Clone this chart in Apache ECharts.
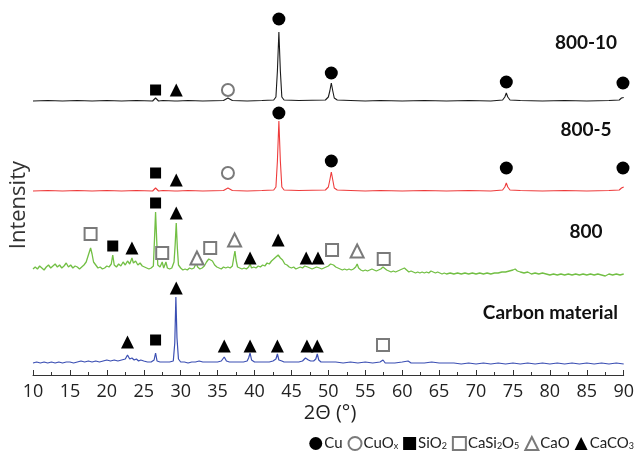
<!DOCTYPE html>
<html>
<head>
<meta charset="utf-8">
<script src="https://cdn.jsdelivr.net/npm/echarts@6/dist/echarts.min.js"></script>
<style>
  html, body { margin: 0; padding: 0; background: #fff; }
  #chart { width: 637px; height: 454px; }
</style>
</head>
<body>
<div id="chart"></div>
<script>
// 2θ ticks
var xTicks = [10, 15, 20, 25, 30, 35, 40, 45, 50, 55, 60, 65, 70, 75, 80, 85, 90];

// vertical offset of each pattern (stacked plot)
var offset800_10 = 274;
var offset800_5 = 184;
var offset800 = 105;
var offsetCarbon = 12;

// 800-10 (black)
var trace800_10 = [[10,0],[12,0.5],[14,0],[16,0.5],[18,0],[20,0.5],[22,0],[24,0.5],[26.2,0],[26.6,3],[27,0],[27.6,0.5],
  [29.2,0],[29.4,1.5],[29.6,0],[31,0.5],[33,0],[35.8,0.5],[36.4,3],[37,0.5],[39,0],[41,0.5],[42.6,1],[42.9,4],[43.1,30],
  [43.3,69],[43.5,30],[43.7,4],[44,1],[46,0.5],[49.6,1],[50,4],[50.2,10],[50.4,18],[50.6,10],[50.8,3],[51.2,1],[53,0.5],
  [55,0],[57,0.5],[60,0],[63,0.5],[66,0],[69,0.5],[72,0],[73.6,1],[73.9,4],[74.1,8],[74.3,4],[74.6,1],[76,0.5],[79,0],
  [82,0.5],[85,0],[88,0.5],[89.4,1],[89.7,3],[89.9,4],[90,3.5]];

// 800-5 (red)
var trace800_5 = [[10,0],[12,0.5],[14,0],[16,0.5],[18,0],[20,0.5],[22,0],[24,0.5],[26.2,0],[26.6,3],[27,0],[27.6,0.5],
  [29.2,0],[29.4,1],[29.6,0],[31,0.5],[33,0],[35.8,0.5],[36.4,3],[37,0.5],[39,0],[41,0.5],[42.6,1],[42.9,4],[43.1,30],
  [43.3,70],[43.5,30],[43.7,4],[44,1],[46,0.5],[49.6,1],[50,4],[50.2,11],[50.4,19],[50.6,11],[50.8,3],[51.2,1],[53,0.5],
  [55,0],[57,0.5],[60,0],[63,0.5],[66,0],[69,0.5],[72,0],[73.6,1],[73.9,4],[74.1,8],[74.3,4],[74.6,1],[76,0.5],[79,0],
  [82,0.5],[85,0],[88,0.5],[89.4,1],[89.7,3],[89.9,5],[90,4]];

// 800 (green)
var trace800 = [[10,1],[10.3,3],[10.6,1],[10.9,4],[11.2,2],[11.5,0],[11.8,3],[12.1,5],[12.4,2],[12.7,4],[13,6],[13.3,3],
  [13.6,5],[13.9,2],[14.2,4],[14.5,7],[14.8,3],[15.1,5],[15.4,2],[15.7,4],[16,3],[16.3,1],[16.6,3],[16.9,5],[17.2,8],
  [17.5,15],[17.8,22],[18,16],[18.2,8],[18.5,5],[18.8,2],[19.1,3],[19.4,1],[19.7,2],[20,4],[20.3,3],[20.6,6],[20.8,15],
  [21,5],[21.3,3],[21.6,6],[21.9,4],[22.2,8],[22.5,5],[22.8,9],[23.1,6],[23.4,12],[23.6,7],[23.9,9],[24.2,5],[24.5,7],
  [24.8,4],[25.1,3],[25.4,2],[25.7,1],[26,2],[26.3,4],[26.45,30],[26.6,58],[26.75,30],[26.9,5],[27.2,3],[27.5,8],
  [27.7,2],[28,8],[28.2,2],[28.5,1],[28.8,2],[29.1,8],[29.25,25],[29.4,47],[29.55,22],[29.7,5],[30,2],[30.3,0],[30.6,1],
  [30.9,0],[31.2,2],[31.5,1],[31.8,2],[32.1,7],[32.3,3],[32.6,1],[32.9,2],[33.2,4],[33.5,8],[33.8,11],[34,12],[34.3,9],
  [34.6,5],[34.9,3],[35.2,2],[35.5,1],[35.8,3],[36.1,2],[36.4,3],[36.7,2],[37,4],[37.2,13],[37.35,19],[37.5,10],[37.7,3],
  [38,2],[38.3,1],[38.6,2],[38.9,1],[39.2,3],[39.4,6],[39.6,2],[39.9,3],[40.2,2],[40.5,4],[40.8,3],[41.1,5],[41.4,4],
  [41.7,7],[42,6],[42.3,9],[42.6,11],[42.9,13],[43.2,15],[43.5,12],[43.8,10],[44.1,6],[44.4,5],[44.7,3],[45,2],[45.3,3],
  [45.6,1],[45.9,2],[46.2,3],[46.5,2],[46.8,4],[47,6],[47.2,3],[47.5,2],[47.8,1],[48.1,2],[48.4,3],[48.6,5],[48.8,2],
  [49.1,1],[49.4,2],[49.7,3],[50,4],[50.3,6],[50.5,7],[50.7,5],[51,3],[51.3,2],[51.6,1],[51.9,0],[52.2,1],[52.5,0],
  [52.8,1],[53.1,0],[53.4,1],[53.7,3],[53.9,6],[54.1,2],[54.4,0],[54.7,-1],[55,0],[55.3,-1],[55.6,0],[55.9,1],[56.2,0],
  [56.5,-1],[56.8,0],[57.1,1],[57.4,3],[57.6,1],[57.9,0],[58.2,-1],[58.5,-2],[58.8,-1],[59.1,-2],[59.4,-1],[59.7,0],
  [60,1],[60.3,2],[60.6,0],[60.9,-2],[61.2,-1],[61.5,-2],[61.8,-3],[62.1,-2],[62.4,-3],[62.7,-2],[63,-3],[63.3,-2],
  [63.6,-3],[63.9,-1],[64.2,-2],[64.5,-3],[64.8,-2],[65.1,-3],[65.4,-4],[65.7,-3],[66,-4],[66.5,-3],[67,-4],[67.5,-3],
  [68,-4],[68.5,-3],[69,-4],[69.5,-3],[70,-4],[70.5,-3],[71,-4],[71.5,-3],[72,-4],[72.5,-3],[73,-3],[73.5,-2],[74,-2],
  [74.5,-1],[75,0],[75.3,1],[75.6,-1],[76,-2],[76.5,-3],[77,-2],[77.5,-4],[78,-3],[78.5,-4],[79,-3],[79.5,-4],[80,-5],
  [80.5,-4],[81,-5],[81.5,-4],[82,-5],[82.5,-4],[83,-5],[83.5,-4],[84,-5],[84.5,-4],[85,-5],[85.5,-4],[86,-5],[86.5,-4],
  [87,-5],[87.5,-6],[88,-4],[88.5,-5],[89,-4],[89.5,-5],[90,-4]];

// Carbon material (blue)
var traceCarbon = [[10,0],[10.5,1],[11,0],[11.5,1],[12,0],[12.5,1],[13,0],[13.5,1],[14,0],[14.5,1],[15,1],[15.5,0],[16,1],
  [16.5,2],[17,1],[17.5,2],[18,1],[18.5,2],[19,1],[19.5,2],[20,3],[20.5,2],[21,3],[21.5,2],[22,3],[22.5,4],[22.8,8],
  [23.1,4],[23.4,5],[23.7,3],[24,4],[24.3,2],[24.6,3],[25,2],[25.5,1],[26,1],[26.4,3],[26.6,10],[26.8,2],[27.2,1],
  [27.6,1],[28,1],[28.5,1],[29,2],[29.2,20],[29.35,66],[29.5,25],[29.7,4],[30,1],[30.5,1],[31,0],[31.5,1],[32,1],
  [32.5,2],[33,1],[33.5,1],[34,1],[34.5,1],[35,1],[35.5,2],[35.9,6],[36.2,2],[36.6,1],[37,1],[37.5,1],[38,1],[38.5,1],
  [39,2],[39.2,5],[39.4,10],[39.6,3],[40,1],[40.5,1],[41,1],[41.5,1],[42,1],[42.5,2],[42.9,4],[43.1,9],[43.3,3],[43.7,2],
  [44,1],[44.5,1],[45,1],[45.5,1],[46,1],[46.5,2],[46.9,5],[47.1,7],[47.3,3],[47.6,2],[48,2],[48.3,4],[48.5,9],[48.7,3],
  [49,1],[49.5,1],[50,1],[51,1],[52,0],[53,1],[54,0],[55,1],[56,0],[57,1],[57.4,3],[57.7,0],[58,0],[59,0],[60,1],
  [60.8,2],[61.2,0],[62,0],[63,0],[64,1],[65,0],[66,0],[67,0],[68,-1],[69,0],[70,-1],[71,0],[72,-1],[73,0],[74,-1],
  [75,0],[76,-1],[77,0],[78,-1],[79,0],[80,-1],[81,0],[82,-1],[83,0],[84,-1],[85,0],[86,-1],[87,0],[88,-1],[89,0],[90,-1]];

// phase markers [2θ, height]
var markCu = [[43.3,356],[50.4,302],[74.1,293],[89.9,292],[43.3,262],[50.4,214],[74.1,207],[89.9,207]];
var markCuOx = [[36.4,285],[36.4,202]];
var markSiO2 = [[26.6,285],[26.6,202],[26.6,172],[20.8,129],[26.6,35]];
var markCaSi2O5 = [[17.8,141],[27.5,122],[34.0,127],[50.5,125],[57.5,116],[57.4,30]];
var markCaO = [[32.2,117],[37.3,135],[53.9,124]];
var markCaCO3 = [[29.4,285],[29.4,195],[29.4,162],[23.4,127],[39.4,117],[43.2,135],[47.0,117],[48.6,117],
  [22.8,33],[29.4,87],[35.9,29],[39.4,29],[43.1,29],[47.1,29],[48.5,29]];

var sampleNames = ['800-10', '800-5', '800', 'Carbon material'];
var phaseNames = ['Cu', 'CuOx', 'SiO2', 'CaSi2O5', 'CaO', 'CaCO3'];
var phaseLabels = {
  'Cu': '{n|Cu}',
  'CuOx': '{n|CuO}{s|x}',
  'SiO2': '{n|SiO}{s|2}',
  'CaSi2O5': '{n|CaSi}{s|2}{n|O}{s|5}',
  'CaO': '{n|CaO}',
  'CaCO3': '{n|CaCO}{s|3}'
};

function shift (arr, off) {
  return arr.map(function (p) { return [p[0], p[1] + off]; });
}

function lineSeries (name, data, off, color, width) {
  return {
    name: name,
    type: 'line',
    data: shift(data, off),
    showSymbol: false,
    symbol: 'none',
    lineStyle: { color: color, width: width },
    z: 2
  };
}

function markSeries (name, data, symbol, size, filled) {
  return {
    name: name,
    type: 'scatter',
    data: data,
    symbol: symbol,
    symbolSize: size,
    itemStyle: filled
      ? { color: '#000', opacity: 1 }
      : { color: '#7a7a7a', borderColor: '#7a7a7a', borderWidth: 1.2, opacity: 1 },
    z: 5
  };
}

var chart = echarts.init(document.getElementById('chart'));
chart.setOption({
  animation: false,
  grid: { left: 33, right: 10, top: 10, bottom: 79 },
  xAxis: {
    type: 'value',
    min: 10,
    max: 90,
    interval: 5,
    axisLine: { lineStyle: { color: '#333', width: 1 } },
    axisTick: { inside: true, length: 5, lineStyle: { color: '#333' } },
    minorTick: { show: true, splitNumber: 2, length: 3, lineStyle: { color: '#333' } },
    splitLine: { show: false },
    axisLabel: {
      fontSize: 18, color: '#222', fontFamily: 'Open Sans', margin: 8,
      formatter: function (v) { return xTicks.indexOf(v) >= 0 ? String(v) : ''; }
    }
  },
  yAxis: {
    type: 'value',
    min: 0,
    max: 365,
    show: false
  },
  legend: {
    data: phaseNames,
    right: 3,
    top: 436,
    itemWidth: 13,
    itemHeight: 13,
    itemGap: 5,
    padding: 0,
    formatter: function (name) { return phaseLabels[name]; },
    textStyle: {
      fontSize: 15,
      padding: [0, 0, 0, -3],
      rich: {
        n: { fontSize: 15, fontFamily: 'Lato', color: '#222' },
        s: { fontSize: 9, fontFamily: 'Lato', color: '#222', verticalAlign: 'bottom', lineHeight: 12 }
      }
    }
  },
  graphic: [
    { type: 'text', left: 8, top: 161, style: { text: 'Intensity', fontSize: 22, fontFamily: 'Open Sans', fill: '#333' }, rotation: Math.PI / 2 },
    { type: 'text', x: 330, y: 413, style: { text: '2\u0398 (\u00b0)', fontSize: 20, fontFamily: 'Open Sans', fill: '#222', align: 'center', verticalAlign: 'middle' } },
    { type: 'text', x: 586, y: 43, style: { text: sampleNames[0], fontSize: 19, fontWeight: 'bold', fontFamily: 'Lato', fill: '#111', align: 'center', verticalAlign: 'middle' } },
    { type: 'text', x: 586, y: 130, style: { text: sampleNames[1], fontSize: 19, fontWeight: 'bold', fontFamily: 'Lato', fill: '#111', align: 'center', verticalAlign: 'middle' } },
    { type: 'text', x: 586, y: 232, style: { text: sampleNames[2], fontSize: 19, fontWeight: 'bold', fontFamily: 'Lato', fill: '#111', align: 'center', verticalAlign: 'middle' } },
    { type: 'text', x: 618, y: 313, style: { text: sampleNames[3], fontSize: 19, fontWeight: 'bold', fontFamily: 'Lato', fill: '#111', align: 'right', verticalAlign: 'middle' } }
  ],
  series: [
    lineSeries(sampleNames[0], trace800_10, offset800_10, '#1a1a1a', 1.1),
    lineSeries(sampleNames[1], trace800_5, offset800_5, '#ee3b3b', 1.1),
    lineSeries(sampleNames[2], trace800, offset800, '#72bf44', 1.3),
    lineSeries(sampleNames[3], traceCarbon, offsetCarbon, '#3b4fb3', 1.2),
    markSeries('Cu', markCu, 'circle', 13, true),
    markSeries('CuOx', markCuOx, 'emptyCircle', 12, false),
    markSeries('SiO2', markSiO2, 'rect', 11, true),
    markSeries('CaSi2O5', markCaSi2O5, 'emptyRect', 12, false),
    markSeries('CaO', markCaO, 'emptyTriangle', 13, false),
    markSeries('CaCO3', markCaCO3, 'triangle', 13, true)
  ]
});
</script>
</body>
</html>
